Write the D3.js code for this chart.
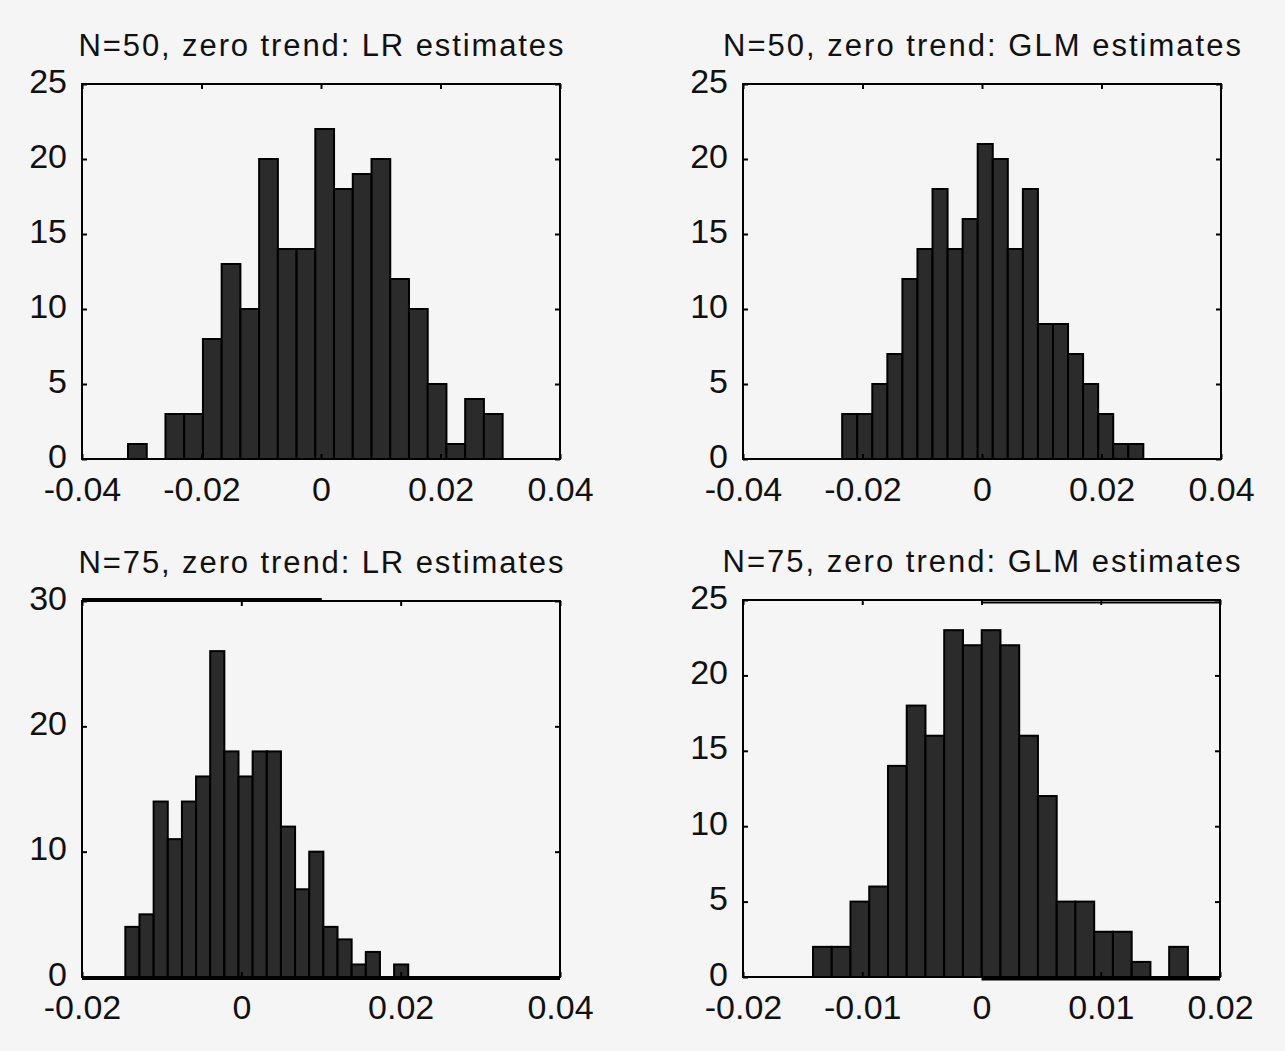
<!DOCTYPE html>
<html>
<head>
<meta charset="utf-8">
<script src="https://cdn.jsdelivr.net/npm/d3@7"></script>
<style>
    body { margin: 0; background: #f5f5f5; }
    svg { display: block; }
    .tick text { font-family: "Liberation Sans", Arial, sans-serif; font-size: 34px; fill: #111; }
    .title { font-family: "Liberation Sans", Arial, sans-serif; font-size: 31px; fill: #111; }
</style>
</head>
<body>
<svg id="chart" width="1285" height="1051"></svg>
<script>
// panel titles
const titles = [
    'N=50, zero trend: LR estimates',
    'N=50, zero trend: GLM estimates',
    'N=75, zero trend: LR estimates',
    'N=75, zero trend: GLM estimates'
];

// histogram counts, 20 equal bins each
const countsLR50  = [1, 0, 3, 3, 8, 13, 10, 20, 14, 14, 22, 18, 19, 20, 12, 10, 5, 1, 4, 3];
const countsGLM50 = [3, 3, 5, 7, 12, 14, 18, 14, 16, 21, 20, 14, 18, 9, 9, 7, 5, 3, 1, 1];
const countsLR75  = [4, 5, 14, 11, 14, 16, 26, 18, 16, 18, 18, 12, 7, 10, 4, 3, 1, 2, 0, 1];
const countsGLM75 = [2, 2, 5, 6, 14, 18, 16, 23, 22, 23, 22, 16, 12, 5, 5, 3, 3, 1, 0, 2];

// outer edges of the binned range (min, max of estimates)
const binRangeLR50  = [-0.0323, 0.0304];
const binRangeGLM50 = [-0.0234, 0.0270];
const binRangeLR75  = [-0.01456, 0.02095];
const binRangeGLM75 = [-0.01413, 0.01731];

// axes
const xTicksTop  = [-0.04, -0.02, 0, 0.02, 0.04];
const xTicksLR75 = [-0.02, 0, 0.02, 0.04];
const xTicksGLM75 = [-0.02, -0.01, 0, 0.01, 0.02];
const yTicks25 = [0, 5, 10, 15, 20, 25];
const yTicks30 = [0, 10, 20, 30];

const panels = [
    { title: titles[0], counts: countsLR50,  range: binRangeLR50,  xDom: [-0.04, 0.04], xTicks: xTicksTop,   yMax: 25, yTicks: yTicks25, x: 82,  y: 84,  w: 478, h: 375, tw: 485 },
    { title: titles[1], counts: countsGLM50, range: binRangeGLM50, xDom: [-0.04, 0.04], xTicks: xTicksTop,   yMax: 25, yTicks: yTicks25, x: 743, y: 84,  w: 478, h: 375, tw: 518 },
    { title: titles[2], counts: countsLR75,  range: binRangeLR75,  xDom: [-0.02, 0.04], xTicks: xTicksLR75,  yMax: 30, yTicks: yTicks30, x: 82,  y: 601, w: 478, h: 376, tw: 485, glitch: 'lr' },
    { title: titles[3], counts: countsGLM75, range: binRangeGLM75, xDom: [-0.02, 0.02], xTicks: xTicksGLM75, yMax: 25, yTicks: yTicks25, x: 743, y: 600, w: 477, h: 377, tw: 518, glitch: 'glm' }
];

const svg = d3.select('#chart');
const fmt = d => d === 0 ? '0' : String(d);

panels.forEach(p => {
    const g = svg.append('g').attr('transform', `translate(${p.x},${p.y})`);
    const x = d3.scaleLinear().domain(p.xDom).range([0, p.w]);
    const y = d3.scaleLinear().domain([0, p.yMax]).range([p.h, 0]);

    const n = p.counts.length;
    const step = (p.range[1] - p.range[0]) / n;
    const bins = p.counts.map((c, i) => ({ x0: p.range[0] + i * step, x1: p.range[0] + (i + 1) * step, c: c }));

    g.selectAll('rect.bar')
        .data(bins)
        .enter()
        .append('rect')
        .attr('class', 'bar')
        .attr('x', d => x(d.x0))
        .attr('width', d => x(d.x1) - x(d.x0))
        .attr('y', d => y(d.c))
        .attr('height', d => y(0) - y(d.c))
        .style('fill', '#2b2b2b')
        .style('stroke', '#000')
        .style('stroke-width', 2);

    // ticks pointing inward on all four sides
    const bottom = g.append('g').attr('transform', `translate(0,${p.h})`)
        .call(d3.axisBottom(x).tickValues(p.xTicks).tickFormat(fmt).tickSize(-5).tickPadding(18));
    const top = g.append('g')
        .call(d3.axisTop(x).tickValues(p.xTicks).tickFormat('').tickSize(-5));
    const left = g.append('g')
        .call(d3.axisLeft(y).tickValues(p.yTicks).tickFormat(fmt).tickSize(-5).tickPadding(15));
    const right = g.append('g').attr('transform', `translate(${p.w},0)`)
        .call(d3.axisRight(y).tickValues(p.yTicks).tickFormat('').tickSize(-5));
    [bottom, top, left, right].forEach(a => {
        a.select('.domain').remove();
        a.selectAll('.tick line').style('stroke', '#000').style('stroke-width', 2);
    });
    left.selectAll('.tick text').attr('dy', '0.24em');

    g.append('rect')
        .attr('width', p.w)
        .attr('height', p.h)
        .style('fill', 'none')
        .style('stroke', '#000')
        .style('stroke-width', 2);

    // scan glitches of the original figure
    if (p.glitch === 'lr') {
        g.append('line').attr('x1', x(-0.02)).attr('x2', x(0.0101)).attr('y1', -1).attr('y2', -1)
            .style('stroke', '#000').style('stroke-width', 4);
        g.append('line').attr('x1', 0).attr('x2', p.w).attr('y1', p.h + 1).attr('y2', p.h + 1)
            .style('stroke', '#000').style('stroke-width', 4);
    }
    if (p.glitch === 'glm') {
        g.append('line').attr('x1', x(0)).attr('x2', p.w).attr('y1', 2.5).attr('y2', 2.5)
            .style('stroke', '#000').style('stroke-width', 2);
        g.append('line').attr('x1', x(0)).attr('x2', p.w).attr('y1', p.h + 2).attr('y2', p.h + 2)
            .style('stroke', '#000').style('stroke-width', 3);
    }

    g.append('text')
        .attr('class', 'title')
        .attr('x', p.w / 2)
        .attr('y', -28)
        .attr('text-anchor', 'middle')
        .attr('textLength', p.tw)
        .attr('lengthAdjust', 'spacing')
        .text(p.title);
});
</script>
</body>
</html>
